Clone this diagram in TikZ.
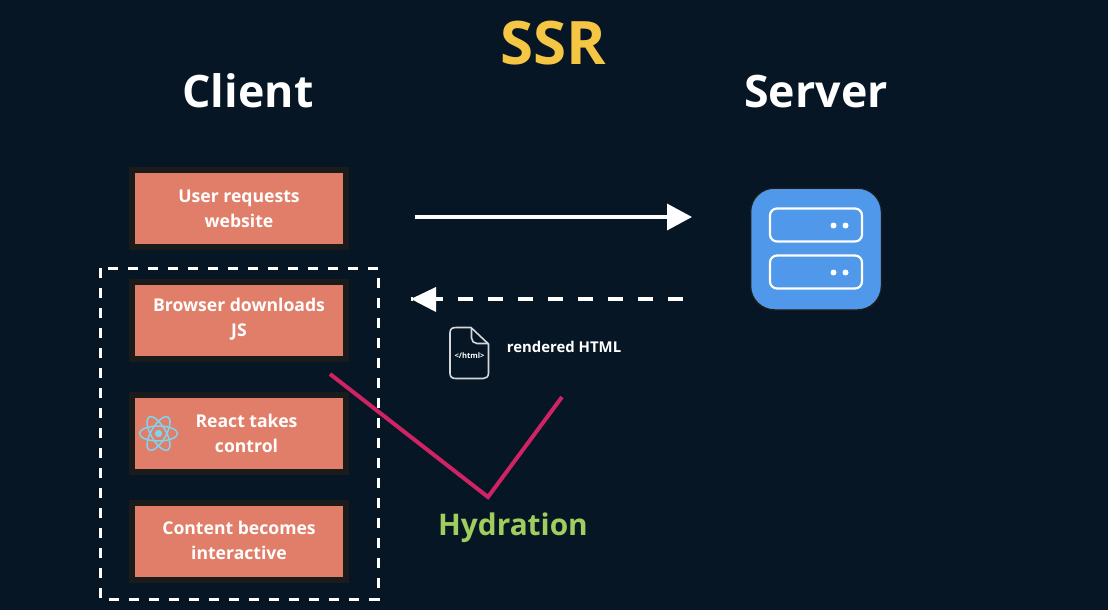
\documentclass[tikz,border=0pt]{standalone}
\usepackage{fontspec}
\setmainfont{Open Sans}
\definecolor{bgc}{HTML}{061625}
\definecolor{boxc}{HTML}{E17E69}
\definecolor{rimc}{HTML}{1B1B1C}
\definecolor{pinkc}{HTML}{CE2364}
\definecolor{greenc}{HTML}{A0CE5E}
\definecolor{yellowc}{HTML}{F5C644}
\definecolor{bluec}{HTML}{4F98EA}
\definecolor{reactc}{HTML}{7FD4EF}
\definecolor{filec}{HTML}{D5D8DB}
\usetikzlibrary{arrows.meta}
\tikzset{
  stepbox/.style={draw=rimc,line width=6pt,fill=boxc,minimum width=214pt,minimum height=77pt,inner sep=0pt,outer sep=0pt},
  boxtext/.style={text=white,font=\fontsize{17.6}{25}\selectfont\bfseries,align=center,inner sep=0pt},
  headline/.style={text=white,font=\fontsize{44.7}{50}\selectfont\bfseries,inner sep=0pt},
  flow/.style={white,line width=3.5pt,-{Triangle[length=25pt,width=26pt]}},
  hydra/.style={pinkc,line width=4pt},
  orbit/.style={draw=reactc,line width=1.5pt},
  rack/.style={draw=white,line width=2.2pt,rounded corners=7pt,minimum width=92pt,minimum height=33pt,inner sep=0pt},
  led/.style={circle,fill=white,minimum size=6pt,inner sep=0pt}
}
\begin{document}
\begin{tikzpicture}[x=1pt,y=-1pt]
\useasboundingbox (0,0) rectangle (1108,610);
\fill[bgc] (0,0) rectangle (1108,610);
\node[text=yellowc,font=\fontsize{60}{60}\selectfont\bfseries,inner sep=0pt] (title) at (553.5,43) {SSR};
\node[headline] (client) at (248,91) {Client};
\node[headline] (server) at (816,91.5) {Server};
\node[stepbox] (b1) at (239,208.7) {};
\node[boxtext] (t1) at (239,209) {User requests\\website};
\node[stepbox] (b2) at (239,320) {};
\node[boxtext] (t2) at (239,319) {Browser downloads\\JS};
\node[stepbox] (b3) at (239,433.7) {};
\node[boxtext] (t3) at (246.5,433.5) {React takes\\control};
\node[stepbox] (b4) at (239,541.5) {};
\node[boxtext] (t4) at (239,540) {Content becomes\\interactive};
\draw[white,line width=2.5pt,dash pattern=on 10pt off 10pt] (100.3,268.3) rectangle (378.3,599.3);
% react logo
\coordinate (rc) at (158.5,433.5);
\fill[reactc] (rc) circle (3.7);
\foreach \a in {0,60,120}{\draw[orbit,rotate around={\a:(rc)}] (rc) ellipse (19 and 7.5);}
% server
\node[draw=rimc,line width=1.5pt,fill=bluec,rounded corners=24pt,minimum width=131pt,minimum height=122pt,inner sep=0pt] (srv) at (816,249) {};
\node[rack] (r1) at (816,225) {};
\node[rack] (r2) at (816,272) {};
\node[led] (l1) at (833.5,225.5) {};
\node[led] (l2) at (845.5,225.5) {};
\node[led] (l3) at (833.5,272.5) {};
\node[led] (l4) at (845.5,272.5) {};
% arrows
\coordinate (a1s) at (415,217);
\coordinate (a1e) at (692,217);
\coordinate (a2s) at (683,299);
\coordinate (a2e) at (411,299);
\draw[flow] (a1s) -- (a1e);
\draw[white,line width=3.5pt,dash pattern=on 15pt off 15pt] (a2s) -- (a2e);
\fill[white] (411,299) -- (436,287) -- (436,312) -- cycle;
% file icon
\draw[filec,line width=1.6pt,line join=round] (456,327.5) -- (471,327.5) -- (488.5,344) -- (488.5,373) .. controls (488.5,377) and (486,378.5) .. (483,378.5) -- (456,378.5) .. controls (452,378.5) and (450,377) .. (450,373) -- (450,333) .. controls (450,329) and (452,327.5) .. (456,327.5) -- cycle;
\draw[filec,line width=1.6pt,line join=round] (471.5,328) -- (471.5,338) .. controls (471.5,341) and (474,343.5) .. (477,343.5) -- (488,343.5);
\node[text=white,font=\fontsize{7.6}{9}\selectfont\bfseries,inner sep=0pt] (ftag) at (469.5,356) {</html>};
\node[text=white,font=\fontsize{14.9}{16}\selectfont\bfseries,inner sep=0pt] (rh) at (564,347) {rendered HTML};
% hydration
\coordinate (h1) at (330,374);
\coordinate (h2) at (488,497);
\coordinate (h3) at (562,397);
\draw[hydra,line join=miter] (h1) -- (h2) -- (h3);
\node[text=greenc,font=\fontsize{29.8}{32}\selectfont\bfseries,inner sep=0pt] (hy) at (513,527.5) {Hydration};
\end{tikzpicture}
\end{document}
